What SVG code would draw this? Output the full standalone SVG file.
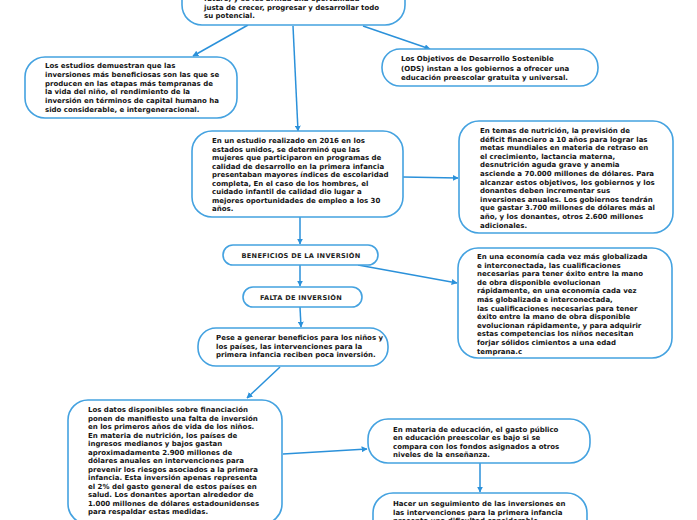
<svg xmlns="http://www.w3.org/2000/svg" width="697" height="520" viewBox="0 0 697 520">
<style>
.box{fill:#fff;stroke:#44a2e0;stroke-width:1.6}
.t{font-family:"DejaVu Sans","Verdana",sans-serif;font-weight:bold;font-size:7px;fill:#141414}
.h{font-family:"DejaVu Sans","Verdana",sans-serif;font-weight:bold;font-size:6.6px;fill:#222;text-anchor:middle;letter-spacing:0.3px}
.c{stroke:#2b91da;stroke-width:1.5;fill:none;marker-end:url(#ah)}
</style>
<defs>
<marker id="ah" viewBox="0 0 10 10" refX="9" refY="5" markerWidth="6" markerHeight="6" markerUnits="userSpaceOnUse" orient="auto">
<path d="M0,0 L10,5 L0,10 z" fill="#2b91da"/>
</marker>
</defs>
<g id="connectors">
<line class="c" x1="248" y1="25" x2="193" y2="56"/>
<line class="c" x1="293" y1="26" x2="298" y2="131"/>
<line class="c" x1="363" y1="26" x2="430" y2="49"/>
<line class="c" x1="403" y1="177" x2="458" y2="178"/>
<line class="c" x1="300" y1="217" x2="300" y2="244"/>
<line class="c" x1="300" y1="265" x2="300" y2="286"/>
<line class="c" x1="358" y1="265" x2="457" y2="283"/>
<line class="c" x1="300" y1="307" x2="301" y2="327"/>
<line class="c" x1="280" y1="367" x2="247" y2="398"/>
<line class="c" x1="283" y1="454" x2="367" y2="449"/>
<line class="c" x1="480" y1="463" x2="480" y2="492"/>
</g>
<g id="n-top">
<rect class="box" x="182" y="-40" width="223" height="65" rx="20"/>
<text class="t" x="204" y="1">futuro, y se les brinda una oportunidad</text>
<text class="t" x="204" y="9.5">justa de crecer, progresar y desarrollar todo</text>
<text class="t" x="204" y="18">su potencial.</text>
</g>
<g id="n-estudios">
<rect class="box" x="25" y="57" width="212" height="61" rx="20"/>
<text class="t" x="45" y="68">Los estudios demuestran que las</text>
<text class="t" x="45" y="76.8">inversiones más beneficiosas son las que se</text>
<text class="t" x="45" y="85.6">producen en las etapas más tempranas de</text>
<text class="t" x="45" y="94.4">la vida del niño,  el rendimiento de la</text>
<text class="t" x="45" y="103.2">inversión en términos de capital humano ha</text>
<text class="t" x="45" y="112">sido considerable, e intergeneracional.</text>
</g>
<g id="n-ods">
<rect class="box" x="382" y="49" width="216" height="37" rx="18"/>
<text class="t" x="401" y="61">Los Objetivos de Desarrollo Sostenible</text>
<text class="t" x="401" y="70.5">(ODS) instan a los gobiernos a ofrecer una</text>
<text class="t" x="401" y="80">educación preescolar gratuita y universal.</text>
</g>
<g id="n-estudio2016">
<rect class="box" x="192" y="131" width="211" height="86" rx="20"/>
<text class="t" x="212" y="143">En un estudio realizado en 2016 en los</text>
<text class="t" x="212" y="151.5">estados unidos, se determinó que las</text>
<text class="t" x="212" y="160">mujeres que participaron en programas de</text>
<text class="t" x="212" y="168.5">calidad de desarrollo en la primera infancia</text>
<text class="t" x="212" y="177">presentaban mayores índices de escolaridad</text>
<text class="t" x="212" y="185.5">completa,  En el caso de los hombres, el</text>
<text class="t" x="212" y="194">cuidado infantil de calidad dio lugar a</text>
<text class="t" x="212" y="202.5">mejores oportunidades de empleo a los 30</text>
<text class="t" x="212" y="211">años.</text>
</g>
<g id="n-nutricion">
<rect class="box" x="459" y="121" width="214" height="112" rx="20"/>
<text class="t" x="480" y="133">En temas de nutrición, la previsión de</text>
<text class="t" x="480" y="141.6">déficit financiero a 10 años para lograr las</text>
<text class="t" x="480" y="150.2">metas mundiales en materia de retraso en</text>
<text class="t" x="480" y="158.8">el crecimiento, lactancia materna,</text>
<text class="t" x="480" y="167.4">desnutrición aguda grave y anemia</text>
<text class="t" x="480" y="176">asciende a 70.000 millones de dólares. Para</text>
<text class="t" x="480" y="184.6">alcanzar estos objetivos, los gobiernos y los</text>
<text class="t" x="480" y="193.2">donantes deben incrementar sus</text>
<text class="t" x="480" y="201.8">inversiones anuales. Los gobiernos tendrán</text>
<text class="t" x="480" y="210.4">que gastar 3.700 millones de dólares más al</text>
<text class="t" x="480" y="219">año, y los donantes, otros 2.600 millones</text>
<text class="t" x="480" y="227.6">adicionales.</text>
</g>
<g id="n-beneficios">
<rect class="box" x="223" y="245" width="155" height="20" rx="10"/>
<text class="h" x="301" y="257.5">BENEFICIOS DE LA INVERSIÓN</text>
</g>
<g id="n-falta">
<rect class="box" x="243" y="287" width="119" height="20" rx="10"/>
<text class="h" x="301" y="299.5">FALTA DE INVERSIÓN</text>
</g>
<g id="n-economia">
<rect class="box" x="458" y="248" width="214" height="110" rx="20"/>
<text class="t" x="477" y="259">En una economía cada vez más globalizada</text>
<text class="t" x="477" y="267.6">e interconectada, las cualificaciones</text>
<text class="t" x="477" y="276.2">necesarias para tener éxito entre la mano</text>
<text class="t" x="477" y="284.8">de obra disponible evolucionan</text>
<text class="t" x="477" y="293.4">rápidamente, en una economía cada vez</text>
<text class="t" x="477" y="302">más globalizada e interconectada,</text>
<text class="t" x="477" y="310.6">las cualificaciones necesarias para tener</text>
<text class="t" x="477" y="319.2">éxito entre la mano de obra disponible</text>
<text class="t" x="477" y="327.8">evolucionan rápidamente, y para adquirir</text>
<text class="t" x="477" y="336.4">estas competencias  los niños necesitan</text>
<text class="t" x="477" y="345">forjar sólidos cimientos a una edad</text>
<text class="t" x="477" y="353.6">temprana.c</text>
</g>
<g id="n-pese">
<rect class="box" x="198" y="328" width="190" height="38" rx="18"/>
<text class="t" x="216" y="340">Pese a generar beneficios para los niños y</text>
<text class="t" x="216" y="348.5">los países, las intervenciones para la</text>
<text class="t" x="216" y="357">primera infancia reciben poca inversión.</text>
</g>
<g id="n-datos">
<rect class="box" x="68" y="400" width="214" height="124" rx="20"/>
<text class="t" x="88" y="412">Los datos disponibles sobre financiación</text>
<text class="t" x="88" y="420.5">ponen de manifiesto una falta de inversión</text>
<text class="t" x="88" y="429">en los primeros años de vida de los niños.</text>
<text class="t" x="88" y="437.5">En materia de nutrición, los países de</text>
<text class="t" x="88" y="446">ingresos medianos y bajos gastan</text>
<text class="t" x="88" y="454.5">aproximadamente 2.900 millones de</text>
<text class="t" x="88" y="463">dólares anuales en intervenciones para</text>
<text class="t" x="88" y="471.5">prevenir los riesgos asociados a la primera</text>
<text class="t" x="88" y="480">infancia.  Esta inversión apenas representa</text>
<text class="t" x="88" y="488.5">el 2% del gasto general de estos países en</text>
<text class="t" x="88" y="497">salud. Los donantes aportan alrededor de</text>
<text class="t" x="88" y="505.5">1.000 millones de dólares estadounidenses</text>
<text class="t" x="88" y="514">para respaldar estas medidas.</text>
</g>
<g id="n-educacion">
<rect class="box" x="368" y="419" width="222" height="44" rx="20"/>
<text class="t" x="393" y="431.5">En materia de educación, el gasto público</text>
<text class="t" x="393" y="440">en educación preescolar es bajo si se</text>
<text class="t" x="393" y="448.5">compara con los fondos asignados a otros</text>
<text class="t" x="393" y="457">niveles de la enseñanza.</text>
</g>
<g id="n-seguimiento">
<rect class="box" x="373" y="493" width="214" height="60" rx="20"/>
<text class="t" x="393" y="506">Hacer un seguimiento de las inversiones en</text>
<text class="t" x="393" y="514.5">las intervenciones para la primera infancia</text>
<text class="t" x="393" y="523">presenta una dificultad considerable.</text>
</g>
</svg>
